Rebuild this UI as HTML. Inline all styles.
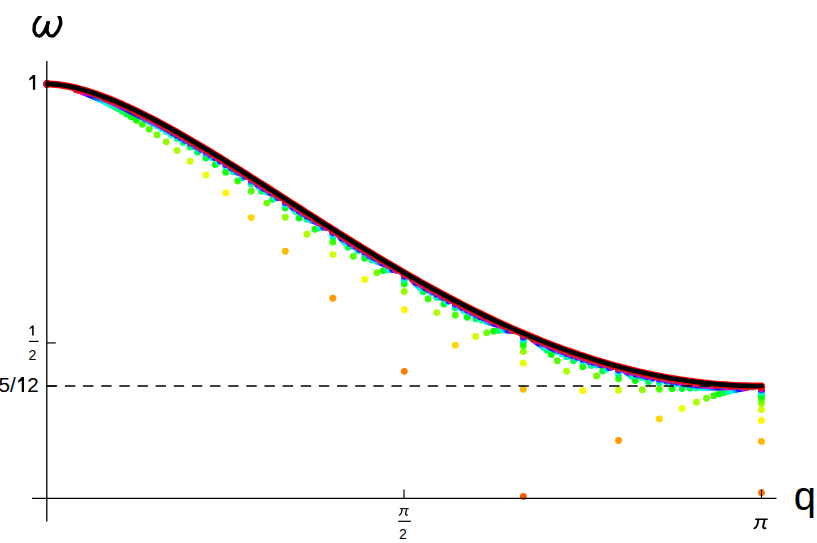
<!DOCTYPE html>
<html><head><meta charset="utf-8"><title>plot</title>
<style>html,body{margin:0;padding:0;background:#fff;}svg{display:block;}</style></head>
<body>
<svg width="817" height="543" viewBox="0 0 817 543">
<rect width="817" height="543" fill="#fff"/>
<defs><clipPath id="cp"><rect x="0" y="0" width="817" height="543"/></clipPath></defs>
<g clip-path="url(#cp)">
<g fill="#ff3d00"><circle cx="47.20" cy="83.90" r="3.45"/></g>
<g fill="#ff5c00"><circle cx="47.20" cy="83.90" r="3.45"/><circle cx="523.33" cy="496.48" r="3.45"/></g>
<g fill="#ff7a00"><circle cx="47.20" cy="83.90" r="3.45"/><circle cx="404.30" cy="371.33" r="3.45"/><circle cx="761.40" cy="492.64" r="3.45"/></g>
<g fill="#ff9900"><circle cx="47.20" cy="83.90" r="3.45"/><circle cx="332.88" cy="298.31" r="3.45"/><circle cx="618.56" cy="440.43" r="3.45"/></g>
<g fill="#ffb800"><circle cx="47.20" cy="83.90" r="3.45"/><circle cx="285.27" cy="251.31" r="3.45"/><circle cx="523.33" cy="389.21" r="3.45"/><circle cx="761.40" cy="441.41" r="3.45"/></g>
<g fill="#ffd600"><circle cx="47.20" cy="83.90" r="3.45"/><circle cx="251.26" cy="217.59" r="3.45"/><circle cx="455.31" cy="345.29" r="3.45"/><circle cx="659.37" cy="418.99" r="3.45"/></g>
<g fill="#fff500"><circle cx="47.20" cy="83.90" r="3.45"/><circle cx="225.75" cy="193.06" r="3.45"/><circle cx="404.30" cy="309.82" r="3.45"/><circle cx="582.85" cy="390.77" r="3.45"/><circle cx="761.40" cy="420.38" r="3.45"/></g>
<g fill="#ebff00"><circle cx="47.20" cy="83.90" r="3.45"/><circle cx="205.91" cy="175.00" r="3.45"/><circle cx="364.62" cy="279.43" r="3.45"/><circle cx="523.33" cy="363.14" r="3.45"/><circle cx="682.04" cy="408.43" r="3.45"/></g>
<g fill="#ccff00"><circle cx="47.20" cy="83.90" r="3.45"/><circle cx="190.04" cy="161.22" r="3.45"/><circle cx="332.88" cy="254.61" r="3.45"/><circle cx="475.72" cy="336.54" r="3.45"/><circle cx="618.56" cy="390.25" r="3.45"/><circle cx="761.40" cy="409.61" r="3.45"/></g>
<g fill="#adff00"><circle cx="47.20" cy="83.90" r="3.45"/><circle cx="177.05" cy="150.45" r="3.45"/><circle cx="306.91" cy="234.21" r="3.45"/><circle cx="436.76" cy="312.59" r="3.45"/><circle cx="566.62" cy="371.27" r="3.45"/><circle cx="696.47" cy="402.16" r="3.45"/></g>
<g fill="#8fff00"><circle cx="47.20" cy="83.90" r="3.45"/><circle cx="166.23" cy="141.86" r="3.45"/><circle cx="285.27" cy="217.29" r="3.45"/><circle cx="404.30" cy="291.38" r="3.45"/><circle cx="523.33" cy="351.59" r="3.45"/><circle cx="642.37" cy="389.69" r="3.45"/><circle cx="761.40" cy="403.31" r="3.45"/></g>
<g fill="#70ff00"><circle cx="47.20" cy="83.90" r="3.45"/><circle cx="157.08" cy="134.88" r="3.45"/><circle cx="266.95" cy="203.12" r="3.45"/><circle cx="376.83" cy="272.73" r="3.45"/><circle cx="486.71" cy="332.74" r="3.45"/><circle cx="596.58" cy="375.88" r="3.45"/><circle cx="706.46" cy="398.27" r="3.45"/></g>
<g fill="#52ff00"><circle cx="47.20" cy="83.90" r="3.45"/><circle cx="149.23" cy="129.14" r="3.45"/><circle cx="251.26" cy="191.15" r="3.45"/><circle cx="353.29" cy="256.35" r="3.45"/><circle cx="455.31" cy="315.13" r="3.45"/><circle cx="557.34" cy="360.82" r="3.45"/><circle cx="659.37" cy="389.20" r="3.45"/><circle cx="761.40" cy="399.30" r="3.45"/></g>
<g fill="#33ff00"><circle cx="47.20" cy="83.90" r="3.45"/><circle cx="142.43" cy="124.35" r="3.45"/><circle cx="237.65" cy="180.94" r="3.45"/><circle cx="332.88" cy="241.96" r="3.45"/><circle cx="428.11" cy="298.92" r="3.45"/><circle cx="523.33" cy="345.75" r="3.45"/><circle cx="618.56" cy="378.71" r="3.45"/><circle cx="713.79" cy="395.67" r="3.45"/></g>
<g fill="#14ff00"><circle cx="47.20" cy="83.90" r="3.45"/><circle cx="136.48" cy="120.31" r="3.45"/><circle cx="225.75" cy="172.16" r="3.45"/><circle cx="315.03" cy="229.26" r="3.45"/><circle cx="404.30" cy="284.09" r="3.45"/><circle cx="493.58" cy="331.14" r="3.45"/><circle cx="582.85" cy="366.85" r="3.45"/><circle cx="672.13" cy="388.78" r="3.45"/><circle cx="761.40" cy="396.56" r="3.45"/></g>
<g fill="#00ff0a"><circle cx="47.20" cy="83.90" r="3.45"/><circle cx="131.22" cy="116.87" r="3.45"/><circle cx="215.25" cy="164.57" r="3.45"/><circle cx="299.27" cy="218.04" r="3.45"/><circle cx="383.29" cy="270.59" r="3.45"/><circle cx="467.32" cy="317.22" r="3.45"/><circle cx="551.34" cy="354.60" r="3.45"/><circle cx="635.36" cy="380.57" r="3.45"/><circle cx="719.39" cy="393.84" r="3.45"/></g>
<g fill="#00ff29"><circle cx="47.20" cy="83.90" r="3.45"/><circle cx="126.56" cy="113.91" r="3.45"/><circle cx="205.91" cy="157.94" r="3.45"/><circle cx="285.27" cy="208.08" r="3.45"/><circle cx="364.62" cy="258.31" r="3.45"/><circle cx="443.98" cy="304.11" r="3.45"/><circle cx="523.33" cy="342.37" r="3.45"/><circle cx="602.69" cy="371.00" r="3.45"/><circle cx="682.04" cy="388.44" r="3.45"/><circle cx="761.40" cy="394.62" r="3.45"/></g>
<g fill="#00ff47"><circle cx="47.20" cy="83.90" r="3.45"/><circle cx="122.38" cy="111.35" r="3.45"/><circle cx="197.56" cy="152.13" r="3.45"/><circle cx="272.74" cy="199.20" r="3.45"/><circle cx="347.92" cy="247.15" r="3.45"/><circle cx="423.09" cy="291.86" r="3.45"/><circle cx="498.27" cy="330.43" r="3.45"/><circle cx="573.45" cy="360.87" r="3.45"/><circle cx="648.63" cy="381.83" r="3.45"/><circle cx="723.81" cy="392.51" r="3.45"/></g>
<g fill="#00ff66"><circle cx="47.20" cy="83.90" r="3.45"/><circle cx="118.62" cy="109.11" r="3.45"/><circle cx="190.04" cy="147.00" r="3.45"/><circle cx="261.46" cy="191.26" r="3.45"/><circle cx="332.88" cy="236.99" r="3.45"/><circle cx="404.30" cy="280.44" r="3.45"/><circle cx="475.72" cy="318.92" r="3.45"/><circle cx="547.14" cy="350.53" r="3.45"/><circle cx="618.56" cy="373.96" r="3.45"/><circle cx="689.98" cy="388.16" r="3.45"/><circle cx="761.40" cy="393.18" r="3.45"/></g>
<g fill="#00ff85"><circle cx="47.20" cy="83.90" r="3.45"/><circle cx="115.22" cy="107.14" r="3.45"/><circle cx="183.24" cy="142.44" r="3.45"/><circle cx="251.26" cy="184.12" r="3.45"/><circle cx="319.28" cy="227.74" r="3.45"/><circle cx="387.30" cy="269.83" r="3.45"/><circle cx="455.31" cy="307.93" r="3.45"/><circle cx="523.33" cy="340.23" r="3.45"/><circle cx="591.35" cy="365.46" r="3.45"/><circle cx="659.37" cy="382.73" r="3.45"/><circle cx="727.39" cy="391.50" r="3.45"/></g>
<g fill="#00ffa3"><circle cx="47.20" cy="83.90" r="3.45"/><circle cx="112.13" cy="105.41" r="3.45"/><circle cx="177.05" cy="138.39" r="3.45"/><circle cx="241.98" cy="177.70" r="3.45"/><circle cx="306.91" cy="219.29" r="3.45"/><circle cx="371.84" cy="259.99" r="3.45"/><circle cx="436.76" cy="297.49" r="3.45"/><circle cx="501.69" cy="330.12" r="3.45"/><circle cx="566.62" cy="356.63" r="3.45"/><circle cx="631.55" cy="376.14" r="3.45"/><circle cx="696.47" cy="387.92" r="3.45"/><circle cx="761.40" cy="392.09" r="3.45"/></g>
<g fill="#00ffc2"><circle cx="47.20" cy="83.90" r="3.45"/><circle cx="109.30" cy="103.87" r="3.45"/><circle cx="171.41" cy="134.75" r="3.45"/><circle cx="233.51" cy="171.89" r="3.45"/><circle cx="295.62" cy="211.56" r="3.45"/><circle cx="357.72" cy="250.85" r="3.45"/><circle cx="419.83" cy="287.63" r="3.45"/><circle cx="481.93" cy="320.30" r="3.45"/><circle cx="544.03" cy="347.69" r="3.45"/><circle cx="606.14" cy="368.92" r="3.45"/><circle cx="668.24" cy="383.39" r="3.45"/><circle cx="730.35" cy="390.71" r="3.45"/></g>
<g fill="#00ffe0"><circle cx="47.20" cy="83.90" r="3.45"/><circle cx="106.72" cy="102.49" r="3.45"/><circle cx="166.23" cy="131.48" r="3.45"/><circle cx="225.75" cy="166.62" r="3.45"/><circle cx="285.27" cy="204.49" r="3.45"/><circle cx="344.78" cy="242.38" r="3.45"/><circle cx="404.30" cy="278.33" r="3.45"/><circle cx="463.82" cy="310.84" r="3.45"/><circle cx="523.33" cy="338.78" r="3.45"/><circle cx="582.85" cy="361.30" r="3.45"/><circle cx="642.37" cy="377.80" r="3.45"/><circle cx="701.88" cy="387.72" r="3.45"/><circle cx="761.40" cy="391.23" r="3.45"/></g>
<g fill="#00ffff"><circle cx="47.20" cy="83.90" r="3.45"/><circle cx="104.34" cy="101.26" r="3.45"/><circle cx="161.47" cy="128.53" r="3.45"/><circle cx="218.61" cy="161.82" r="3.45"/><circle cx="275.74" cy="197.99" r="3.45"/><circle cx="332.88" cy="234.52" r="3.45"/><circle cx="390.02" cy="269.58" r="3.45"/><circle cx="447.15" cy="301.77" r="3.45"/><circle cx="504.29" cy="330.01" r="3.45"/><circle cx="561.42" cy="353.49" r="3.45"/><circle cx="618.56" cy="371.59" r="3.45"/><circle cx="675.70" cy="383.88" r="3.45"/><circle cx="732.83" cy="390.09" r="3.45"/></g>
<g fill="#00e0ff"><circle cx="47.20" cy="83.90" r="3.45"/><circle cx="102.14" cy="100.15" r="3.45"/><circle cx="157.08" cy="125.85" r="3.45"/><circle cx="212.02" cy="157.44" r="3.45"/><circle cx="266.95" cy="192.01" r="3.45"/><circle cx="321.89" cy="227.21" r="3.45"/><circle cx="376.83" cy="261.35" r="3.45"/><circle cx="431.77" cy="293.11" r="3.45"/><circle cx="486.71" cy="321.45" r="3.45"/><circle cx="541.65" cy="345.60" r="3.45"/><circle cx="596.58" cy="364.96" r="3.45"/><circle cx="651.52" cy="379.08" r="3.45"/><circle cx="706.46" cy="387.56" r="3.45"/><circle cx="761.40" cy="390.55" r="3.45"/></g>
<g fill="#00c2ff"><circle cx="47.20" cy="83.90" r="3.45"/><circle cx="100.10" cy="99.15" r="3.45"/><circle cx="153.01" cy="123.42" r="3.45"/><circle cx="205.91" cy="153.44" r="3.45"/><circle cx="258.81" cy="186.49" r="3.45"/><circle cx="311.72" cy="220.42" r="3.45"/><circle cx="364.62" cy="253.62" r="3.45"/><circle cx="417.53" cy="284.85" r="3.45"/><circle cx="470.43" cy="313.15" r="3.45"/><circle cx="523.33" cy="337.75" r="3.45"/><circle cx="576.24" cy="358.08" r="3.45"/><circle cx="629.14" cy="373.69" r="3.45"/><circle cx="682.04" cy="384.26" r="3.45"/><circle cx="734.95" cy="389.59" r="3.45"/></g>
<g fill="#00a3ff"><circle cx="47.20" cy="83.90" r="3.45"/><circle cx="98.21" cy="98.24" r="3.45"/><circle cx="149.23" cy="121.20" r="3.45"/><circle cx="200.24" cy="149.76" r="3.45"/><circle cx="251.26" cy="181.40" r="3.45"/><circle cx="302.27" cy="214.10" r="3.45"/><circle cx="353.29" cy="246.35" r="3.45"/><circle cx="404.30" cy="277.00" r="3.45"/><circle cx="455.31" cy="305.13" r="3.45"/><circle cx="506.33" cy="330.01" r="3.45"/><circle cx="557.34" cy="351.07" r="3.45"/><circle cx="608.36" cy="367.87" r="3.45"/><circle cx="659.37" cy="380.09" r="3.45"/><circle cx="710.39" cy="387.41" r="3.45"/><circle cx="761.40" cy="390.00" r="3.45"/></g>
<g fill="#0085ff"><circle cx="47.20" cy="83.90" r="3.45"/><circle cx="96.46" cy="97.41" r="3.45"/><circle cx="145.71" cy="119.17" r="3.45"/><circle cx="194.97" cy="146.38" r="3.45"/><circle cx="244.22" cy="176.69" r="3.45"/><circle cx="293.48" cy="208.20" r="3.45"/><circle cx="342.73" cy="239.52" r="3.45"/><circle cx="391.99" cy="269.55" r="3.45"/><circle cx="441.24" cy="297.41" r="3.45"/><circle cx="490.50" cy="322.42" r="3.45"/><circle cx="539.75" cy="344.02" r="3.45"/><circle cx="589.01" cy="361.78" r="3.45"/><circle cx="638.26" cy="375.37" r="3.45"/><circle cx="687.52" cy="384.55" r="3.45"/><circle cx="736.77" cy="389.18" r="3.45"/></g>
<g fill="#0066ff"><circle cx="47.20" cy="83.90" r="3.45"/><circle cx="94.81" cy="96.65" r="3.45"/><circle cx="142.43" cy="117.31" r="3.45"/><circle cx="190.04" cy="143.26" r="3.45"/><circle cx="237.65" cy="172.31" r="3.45"/><circle cx="285.27" cy="202.70" r="3.45"/><circle cx="332.88" cy="233.10" r="3.45"/><circle cx="380.49" cy="262.47" r="3.45"/><circle cx="428.11" cy="290.00" r="3.45"/><circle cx="475.72" cy="315.02" r="3.45"/><circle cx="523.33" cy="337.00" r="3.45"/><circle cx="570.95" cy="355.51" r="3.45"/><circle cx="618.56" cy="370.23" r="3.45"/><circle cx="666.17" cy="380.91" r="3.45"/><circle cx="713.79" cy="387.29" r="3.45"/><circle cx="761.40" cy="389.55" r="3.45"/></g>
<g fill="#0047ff"><circle cx="47.20" cy="83.90" r="3.45"/><circle cx="93.28" cy="95.96" r="3.45"/><circle cx="139.35" cy="115.60" r="3.45"/><circle cx="185.43" cy="140.38" r="3.45"/><circle cx="231.51" cy="168.25" r="3.45"/><circle cx="277.59" cy="197.56" r="3.45"/><circle cx="323.66" cy="227.06" r="3.45"/><circle cx="369.74" cy="255.76" r="3.45"/><circle cx="415.82" cy="282.90" r="3.45"/><circle cx="461.90" cy="307.84" r="3.45"/><circle cx="507.97" cy="330.06" r="3.45"/><circle cx="554.05" cy="349.15" r="3.45"/><circle cx="600.13" cy="364.79" r="3.45"/><circle cx="646.21" cy="376.73" r="3.45"/><circle cx="692.28" cy="384.79" r="3.45"/><circle cx="738.36" cy="388.84" r="3.45"/></g>
<g fill="#0029ff"><circle cx="47.20" cy="83.90" r="3.45"/><circle cx="91.84" cy="95.32" r="3.45"/><circle cx="136.48" cy="114.02" r="3.45"/><circle cx="181.11" cy="137.71" r="3.45"/><circle cx="225.75" cy="164.48" r="3.45"/><circle cx="270.39" cy="192.75" r="3.45"/><circle cx="315.03" cy="221.37" r="3.45"/><circle cx="359.66" cy="249.40" r="3.45"/><circle cx="404.30" cy="276.11" r="3.45"/><circle cx="448.94" cy="300.89" r="3.45"/><circle cx="493.58" cy="323.24" r="3.45"/><circle cx="538.21" cy="342.77" r="3.45"/><circle cx="582.85" cy="359.16" r="3.45"/><circle cx="627.49" cy="372.16" r="3.45"/><circle cx="672.13" cy="381.57" r="3.45"/><circle cx="716.76" cy="387.19" r="3.45"/><circle cx="761.40" cy="389.17" r="3.45"/></g>
<g fill="#000aff"><circle cx="47.20" cy="83.90" r="3.45"/><circle cx="90.48" cy="94.74" r="3.45"/><circle cx="133.77" cy="112.56" r="3.45"/><circle cx="177.05" cy="135.23" r="3.45"/><circle cx="220.34" cy="160.95" r="3.45"/><circle cx="263.62" cy="188.25" r="3.45"/><circle cx="306.91" cy="216.01" r="3.45"/><circle cx="350.19" cy="243.36" r="3.45"/><circle cx="393.48" cy="269.61" r="3.45"/><circle cx="436.76" cy="294.17" r="3.45"/><circle cx="480.05" cy="316.57" r="3.45"/><circle cx="523.33" cy="336.42" r="3.45"/><circle cx="566.62" cy="353.41" r="3.45"/><circle cx="609.90" cy="367.28" r="3.45"/><circle cx="653.19" cy="377.85" r="3.45"/><circle cx="696.47" cy="384.97" r="3.45"/><circle cx="739.76" cy="388.56" r="3.45"/></g>
<g fill="#1400ff"><circle cx="47.20" cy="83.90" r="3.45"/><circle cx="89.21" cy="94.20" r="3.45"/><circle cx="131.22" cy="111.21" r="3.45"/><circle cx="173.24" cy="132.93" r="3.45"/><circle cx="215.25" cy="157.66" r="3.45"/><circle cx="257.26" cy="184.02" r="3.45"/><circle cx="299.27" cy="210.95" r="3.45"/><circle cx="341.28" cy="237.64" r="3.45"/><circle cx="383.29" cy="263.40" r="3.45"/><circle cx="425.31" cy="287.70" r="3.45"/><circle cx="467.32" cy="310.07" r="3.45"/><circle cx="509.33" cy="330.14" r="3.45"/><circle cx="551.34" cy="347.60" r="3.45"/><circle cx="593.35" cy="362.20" r="3.45"/><circle cx="635.36" cy="373.76" r="3.45"/><circle cx="677.38" cy="382.11" r="3.45"/><circle cx="719.39" cy="387.09" r="3.45"/><circle cx="761.40" cy="388.85" r="3.45"/></g>
<g fill="#3300ff"><circle cx="47.20" cy="83.90" r="3.45"/><circle cx="88.01" cy="93.70" r="3.45"/><circle cx="128.82" cy="109.95" r="3.45"/><circle cx="169.63" cy="130.78" r="3.45"/><circle cx="210.45" cy="154.59" r="3.45"/><circle cx="251.26" cy="180.05" r="3.45"/><circle cx="292.07" cy="206.18" r="3.45"/><circle cx="332.88" cy="232.20" r="3.45"/><circle cx="373.69" cy="257.47" r="3.45"/><circle cx="414.50" cy="281.47" r="3.45"/><circle cx="455.31" cy="303.75" r="3.45"/><circle cx="496.13" cy="323.95" r="3.45"/><circle cx="536.94" cy="341.77" r="3.45"/><circle cx="577.75" cy="356.98" r="3.45"/><circle cx="618.56" cy="369.37" r="3.45"/><circle cx="659.37" cy="378.79" r="3.45"/><circle cx="700.18" cy="385.13" r="3.45"/><circle cx="740.99" cy="388.31" r="3.45"/></g>
<g fill="#5200ff"><circle cx="47.20" cy="83.90" r="3.45"/><circle cx="86.88" cy="93.24" r="3.45"/><circle cx="126.56" cy="108.79" r="3.45"/><circle cx="166.23" cy="128.78" r="3.45"/><circle cx="205.91" cy="151.71" r="3.45"/><circle cx="245.59" cy="176.32" r="3.45"/><circle cx="285.27" cy="201.68" r="3.45"/><circle cx="324.94" cy="227.05" r="3.45"/><circle cx="364.62" cy="251.81" r="3.45"/><circle cx="404.30" cy="275.47" r="3.45"/><circle cx="443.98" cy="297.61" r="3.45"/><circle cx="483.66" cy="317.88" r="3.45"/><circle cx="523.33" cy="335.98" r="3.45"/><circle cx="563.01" cy="351.67" r="3.45"/><circle cx="602.69" cy="364.76" r="3.45"/><circle cx="642.37" cy="375.10" r="3.45"/><circle cx="682.04" cy="382.56" r="3.45"/><circle cx="721.72" cy="387.01" r="3.45"/><circle cx="761.40" cy="388.58" r="3.45"/></g>
<g fill="#7000ff"><circle cx="47.20" cy="83.90" r="3.45"/><circle cx="85.81" cy="92.81" r="3.45"/><circle cx="124.41" cy="107.70" r="3.45"/><circle cx="163.02" cy="126.91" r="3.45"/><circle cx="201.62" cy="149.00" r="3.45"/><circle cx="240.23" cy="172.80" r="3.45"/><circle cx="278.83" cy="197.42" r="3.45"/><circle cx="317.44" cy="222.15" r="3.45"/><circle cx="356.04" cy="246.41" r="3.45"/><circle cx="394.65" cy="269.71" r="3.45"/><circle cx="433.25" cy="291.67" r="3.45"/><circle cx="471.86" cy="311.94" r="3.45"/><circle cx="510.46" cy="330.23" r="3.45"/><circle cx="549.07" cy="346.32" r="3.45"/><circle cx="587.68" cy="360.00" r="3.45"/><circle cx="626.28" cy="371.13" r="3.45"/><circle cx="664.89" cy="379.57" r="3.45"/><circle cx="703.49" cy="385.25" r="3.45"/><circle cx="742.10" cy="388.11" r="3.45"/></g>
<g fill="#8f00ff"><circle cx="47.20" cy="83.90" r="3.45"/><circle cx="84.79" cy="92.41" r="3.45"/><circle cx="122.38" cy="106.68" r="3.45"/><circle cx="159.97" cy="125.16" r="3.45"/><circle cx="197.56" cy="146.46" r="3.45"/><circle cx="235.15" cy="169.49" r="3.45"/><circle cx="272.74" cy="193.39" r="3.45"/><circle cx="310.33" cy="217.49" r="3.45"/><circle cx="347.92" cy="241.24" r="3.45"/><circle cx="385.51" cy="264.18" r="3.45"/><circle cx="423.09" cy="285.92" r="3.45"/><circle cx="460.68" cy="306.14" r="3.45"/><circle cx="498.27" cy="324.56" r="3.45"/><circle cx="535.86" cy="340.96" r="3.45"/><circle cx="573.45" cy="355.13" r="3.45"/><circle cx="611.04" cy="366.93" r="3.45"/><circle cx="648.63" cy="376.24" r="3.45"/><circle cx="686.22" cy="382.95" r="3.45"/><circle cx="723.81" cy="386.94" r="3.45"/><circle cx="761.40" cy="388.35" r="3.45"/></g>
<g fill="#ad00ff"><circle cx="47.20" cy="83.90" r="3.45"/><circle cx="83.83" cy="92.04" r="3.45"/><circle cx="120.45" cy="105.73" r="3.45"/><circle cx="157.08" cy="123.51" r="3.45"/><circle cx="193.70" cy="144.08" r="3.45"/><circle cx="230.33" cy="166.37" r="3.45"/><circle cx="266.95" cy="189.58" r="3.45"/><circle cx="303.58" cy="213.07" r="3.45"/><circle cx="340.21" cy="236.31" r="3.45"/><circle cx="376.83" cy="258.87" r="3.45"/><circle cx="413.46" cy="280.37" r="3.45"/><circle cx="450.08" cy="300.50" r="3.45"/><circle cx="486.71" cy="318.99" r="3.45"/><circle cx="523.33" cy="335.62" r="3.45"/><circle cx="559.96" cy="350.20" r="3.45"/><circle cx="596.58" cy="362.58" r="3.45"/><circle cx="633.21" cy="372.62" r="3.45"/><circle cx="669.84" cy="380.24" r="3.45"/><circle cx="706.46" cy="385.36" r="3.45"/><circle cx="743.09" cy="387.93" r="3.45"/></g>
<g fill="#cc00ff"><circle cx="47.20" cy="83.90" r="3.45"/><circle cx="82.91" cy="91.69" r="3.45"/><circle cx="118.62" cy="104.85" r="3.45"/><circle cx="154.33" cy="121.97" r="3.45"/><circle cx="190.04" cy="141.83" r="3.45"/><circle cx="225.75" cy="163.42" r="3.45"/><circle cx="261.46" cy="185.96" r="3.45"/><circle cx="297.17" cy="208.86" r="3.45"/><circle cx="332.88" cy="231.60" r="3.45"/><circle cx="368.59" cy="253.77" r="3.45"/><circle cx="404.30" cy="275.01" r="3.45"/><circle cx="440.01" cy="295.01" r="3.45"/><circle cx="475.72" cy="313.52" r="3.45"/><circle cx="511.43" cy="330.33" r="3.45"/><circle cx="547.14" cy="345.24" r="3.45"/><circle cx="582.85" cy="358.10" r="3.45"/><circle cx="618.56" cy="368.79" r="3.45"/><circle cx="654.27" cy="377.21" r="3.45"/><circle cx="689.98" cy="383.27" r="3.45"/><circle cx="725.69" cy="386.88" r="3.45"/><circle cx="761.40" cy="388.15" r="3.45"/></g>
<g fill="#eb00ff"><circle cx="47.20" cy="83.90" r="3.45"/><circle cx="82.04" cy="91.37" r="3.45"/><circle cx="116.88" cy="104.01" r="3.45"/><circle cx="151.72" cy="120.52" r="3.45"/><circle cx="186.56" cy="139.71" r="3.45"/><circle cx="221.40" cy="160.62" r="3.45"/><circle cx="256.23" cy="182.53" r="3.45"/><circle cx="291.07" cy="204.85" r="3.45"/><circle cx="325.91" cy="227.10" r="3.45"/><circle cx="360.75" cy="248.87" r="3.45"/><circle cx="395.59" cy="269.83" r="3.45"/><circle cx="430.43" cy="289.68" r="3.45"/><circle cx="465.27" cy="308.18" r="3.45"/><circle cx="500.11" cy="325.10" r="3.45"/><circle cx="534.95" cy="340.28" r="3.45"/><circle cx="569.79" cy="353.55" r="3.45"/><circle cx="604.62" cy="364.79" r="3.45"/><circle cx="639.46" cy="373.91" r="3.45"/><circle cx="674.30" cy="380.81" r="3.45"/><circle cx="709.14" cy="385.44" r="3.45"/><circle cx="743.98" cy="387.77" r="3.45"/></g>
<g fill="#ff00f5"><circle cx="47.20" cy="83.90" r="3.45"/><circle cx="81.21" cy="91.06" r="3.45"/><circle cx="115.22" cy="103.23" r="3.45"/><circle cx="149.23" cy="119.15" r="3.45"/><circle cx="183.24" cy="137.71" r="3.45"/><circle cx="217.25" cy="157.98" r="3.45"/><circle cx="251.26" cy="179.28" r="3.45"/><circle cx="285.27" cy="201.04" r="3.45"/><circle cx="319.28" cy="222.80" r="3.45"/><circle cx="353.29" cy="244.18" r="3.45"/><circle cx="387.30" cy="264.84" r="3.45"/><circle cx="421.30" cy="284.51" r="3.45"/><circle cx="455.31" cy="302.95" r="3.45"/><circle cx="489.32" cy="319.95" r="3.45"/><circle cx="523.33" cy="335.33" r="3.45"/><circle cx="557.34" cy="348.95" r="3.45"/><circle cx="591.35" cy="360.67" r="3.45"/><circle cx="625.36" cy="370.39" r="3.45"/><circle cx="659.37" cy="378.04" r="3.45"/><circle cx="693.38" cy="383.55" r="3.45"/><circle cx="727.39" cy="386.82" r="3.45"/><circle cx="761.40" cy="387.98" r="3.45"/></g>
<g fill="#ff00d6"><circle cx="47.20" cy="83.90" r="3.45"/><circle cx="80.42" cy="90.78" r="3.45"/><circle cx="113.64" cy="102.49" r="3.45"/><circle cx="146.86" cy="117.86" r="3.45"/><circle cx="180.07" cy="135.81" r="3.45"/><circle cx="213.29" cy="155.48" r="3.45"/><circle cx="246.51" cy="176.18" r="3.45"/><circle cx="279.73" cy="197.40" r="3.45"/><circle cx="312.95" cy="218.68" r="3.45"/><circle cx="346.17" cy="239.67" r="3.45"/><circle cx="379.39" cy="260.03" r="3.45"/><circle cx="412.60" cy="279.51" r="3.45"/><circle cx="445.82" cy="297.86" r="3.45"/><circle cx="479.04" cy="314.89" r="3.45"/><circle cx="512.26" cy="330.43" r="3.45"/><circle cx="545.48" cy="344.32" r="3.45"/><circle cx="578.70" cy="356.45" r="3.45"/><circle cx="611.92" cy="366.71" r="3.45"/><circle cx="645.13" cy="375.02" r="3.45"/><circle cx="678.35" cy="381.30" r="3.45"/><circle cx="711.57" cy="385.52" r="3.45"/><circle cx="744.79" cy="387.63" r="3.45"/></g>
<g fill="#ff00b8"><circle cx="47.20" cy="83.90" r="3.45"/><circle cx="79.66" cy="90.51" r="3.45"/><circle cx="112.13" cy="101.80" r="3.45"/><circle cx="144.59" cy="116.64" r="3.45"/><circle cx="177.05" cy="134.03" r="3.45"/><circle cx="209.52" cy="153.10" r="3.45"/><circle cx="241.98" cy="173.24" r="3.45"/><circle cx="274.45" cy="193.93" r="3.45"/><circle cx="306.91" cy="214.75" r="3.45"/><circle cx="339.37" cy="235.34" r="3.45"/><circle cx="371.84" cy="255.39" r="3.45"/><circle cx="404.30" cy="274.65" r="3.45"/><circle cx="436.76" cy="292.90" r="3.45"/><circle cx="469.23" cy="309.93" r="3.45"/><circle cx="501.69" cy="325.58" r="3.45"/><circle cx="534.15" cy="339.70" r="3.45"/><circle cx="566.62" cy="352.18" r="3.45"/><circle cx="599.08" cy="362.90" r="3.45"/><circle cx="631.55" cy="371.78" r="3.45"/><circle cx="664.01" cy="378.76" r="3.45"/><circle cx="696.47" cy="383.79" r="3.45"/><circle cx="728.94" cy="386.77" r="3.45"/><circle cx="761.40" cy="387.83" r="3.45"/></g>
<g fill="#ff0099"><circle cx="47.20" cy="83.90" r="3.45"/><circle cx="78.94" cy="90.26" r="3.45"/><circle cx="110.68" cy="101.15" r="3.45"/><circle cx="142.43" cy="115.50" r="3.45"/><circle cx="174.17" cy="132.33" r="3.45"/><circle cx="205.91" cy="150.85" r="3.45"/><circle cx="237.65" cy="170.44" r="3.45"/><circle cx="269.40" cy="190.62" r="3.45"/><circle cx="301.14" cy="210.98" r="3.45"/><circle cx="332.88" cy="231.18" r="3.45"/><circle cx="364.62" cy="250.92" r="3.45"/><circle cx="396.36" cy="269.96" r="3.45"/><circle cx="428.11" cy="288.07" r="3.45"/><circle cx="459.85" cy="305.07" r="3.45"/><circle cx="491.59" cy="320.79" r="3.45"/><circle cx="523.33" cy="335.10" r="3.45"/><circle cx="555.08" cy="347.86" r="3.45"/><circle cx="586.82" cy="358.99" r="3.45"/><circle cx="618.56" cy="368.38" r="3.45"/><circle cx="650.30" cy="375.98" r="3.45"/><circle cx="682.04" cy="381.73" r="3.45"/><circle cx="713.79" cy="385.58" r="3.45"/><circle cx="745.53" cy="387.51" r="3.45"/></g>
<g fill="#ff007a"><circle cx="47.20" cy="83.90" r="3.45"/><circle cx="78.25" cy="90.02" r="3.45"/><circle cx="109.30" cy="100.53" r="3.45"/><circle cx="140.36" cy="114.41" r="3.45"/><circle cx="171.41" cy="130.72" r="3.45"/><circle cx="202.46" cy="148.71" r="3.45"/><circle cx="233.51" cy="167.78" r="3.45"/><circle cx="264.57" cy="187.46" r="3.45"/><circle cx="295.62" cy="207.37" r="3.45"/><circle cx="326.67" cy="227.18" r="3.45"/><circle cx="357.72" cy="246.61" r="3.45"/><circle cx="388.77" cy="265.41" r="3.45"/><circle cx="419.83" cy="283.37" r="3.45"/><circle cx="450.88" cy="300.32" r="3.45"/><circle cx="481.93" cy="316.08" r="3.45"/><circle cx="512.98" cy="330.53" r="3.45"/><circle cx="544.03" cy="343.54" r="3.45"/><circle cx="575.09" cy="355.01" r="3.45"/><circle cx="606.14" cy="364.85" r="3.45"/><circle cx="637.19" cy="373.00" r="3.45"/><circle cx="668.24" cy="379.39" r="3.45"/><circle cx="699.30" cy="383.99" r="3.45"/><circle cx="730.35" cy="386.72" r="3.45"/><circle cx="761.40" cy="387.69" r="3.45"/></g>
<g fill="#ff005c"><circle cx="47.20" cy="83.90" r="3.45"/><circle cx="77.59" cy="89.80" r="3.45"/><circle cx="107.98" cy="99.95" r="3.45"/><circle cx="138.37" cy="113.38" r="3.45"/><circle cx="168.77" cy="129.20" r="3.45"/><circle cx="199.16" cy="146.67" r="3.45"/><circle cx="229.55" cy="165.24" r="3.45"/><circle cx="259.94" cy="184.44" r="3.45"/><circle cx="290.33" cy="203.92" r="3.45"/><circle cx="320.72" cy="223.35" r="3.45"/><circle cx="351.11" cy="242.45" r="3.45"/><circle cx="381.51" cy="261.01" r="3.45"/><circle cx="411.90" cy="278.81" r="3.45"/><circle cx="442.29" cy="295.68" r="3.45"/><circle cx="472.68" cy="311.45" r="3.45"/><circle cx="503.07" cy="326.00" r="3.45"/><circle cx="533.46" cy="339.21" r="3.45"/><circle cx="563.86" cy="350.98" r="3.45"/><circle cx="594.25" cy="361.21" r="3.45"/><circle cx="624.64" cy="369.85" r="3.45"/><circle cx="655.03" cy="376.83" r="3.45"/><circle cx="685.42" cy="382.10" r="3.45"/><circle cx="715.81" cy="385.63" r="3.45"/><circle cx="746.20" cy="387.41" r="3.45"/></g>
<g fill="#ff003d"><circle cx="47.20" cy="83.90" r="3.45"/><circle cx="76.96" cy="89.58" r="3.45"/><circle cx="106.72" cy="99.40" r="3.45"/><circle cx="136.48" cy="112.40" r="3.45"/><circle cx="166.23" cy="127.75" r="3.45"/><circle cx="195.99" cy="144.73" r="3.45"/><circle cx="225.75" cy="162.81" r="3.45"/><circle cx="255.51" cy="181.56" r="3.45"/><circle cx="285.27" cy="200.61" r="3.45"/><circle cx="315.03" cy="219.66" r="3.45"/><circle cx="344.78" cy="238.45" r="3.45"/><circle cx="374.54" cy="256.76" r="3.45"/><circle cx="404.30" cy="274.38" r="3.45"/><circle cx="434.06" cy="291.15" r="3.45"/><circle cx="463.82" cy="306.91" r="3.45"/><circle cx="493.57" cy="321.53" r="3.45"/><circle cx="523.33" cy="334.90" r="3.45"/><circle cx="553.09" cy="346.92" r="3.45"/><circle cx="582.85" cy="357.50" r="3.45"/><circle cx="612.61" cy="366.57" r="3.45"/><circle cx="642.37" cy="374.07" r="3.45"/><circle cx="672.13" cy="379.95" r="3.45"/><circle cx="701.88" cy="384.17" r="3.45"/><circle cx="731.64" cy="386.68" r="3.45"/><circle cx="761.40" cy="387.57" r="3.45"/></g>
<g fill="#ff001f"><circle cx="47.20" cy="83.90" r="3.45"/><circle cx="76.35" cy="89.38" r="3.45"/><circle cx="105.50" cy="98.87" r="3.45"/><circle cx="134.65" cy="111.47" r="3.45"/><circle cx="163.80" cy="126.37" r="3.45"/><circle cx="192.96" cy="142.88" r="3.45"/><circle cx="222.11" cy="160.50" r="3.45"/><circle cx="251.26" cy="178.79" r="3.45"/><circle cx="280.41" cy="197.43" r="3.45"/><circle cx="309.56" cy="216.11" r="3.45"/><circle cx="338.71" cy="234.59" r="3.45"/><circle cx="367.86" cy="252.64" r="3.45"/><circle cx="397.01" cy="270.08" r="3.45"/><circle cx="426.16" cy="286.73" r="3.45"/><circle cx="455.31" cy="302.46" r="3.45"/><circle cx="484.47" cy="317.13" r="3.45"/><circle cx="513.62" cy="330.62" r="3.45"/><circle cx="542.77" cy="342.85" r="3.45"/><circle cx="571.92" cy="353.73" r="3.45"/><circle cx="601.07" cy="363.18" r="3.45"/><circle cx="630.22" cy="371.14" r="3.45"/><circle cx="659.37" cy="377.57" r="3.45"/><circle cx="688.52" cy="382.43" r="3.45"/><circle cx="717.67" cy="385.68" r="3.45"/><circle cx="746.82" cy="387.31" r="3.45"/></g>
<g fill="#ff0000"><circle cx="47.20" cy="83.90" r="3.45"/><circle cx="75.77" cy="89.20" r="3.45"/><circle cx="104.34" cy="98.38" r="3.45"/><circle cx="132.90" cy="110.59" r="3.45"/><circle cx="161.47" cy="125.06" r="3.45"/><circle cx="190.04" cy="141.12" r="3.45"/><circle cx="218.61" cy="158.29" r="3.45"/><circle cx="247.18" cy="176.15" r="3.45"/><circle cx="275.74" cy="194.38" r="3.45"/><circle cx="304.31" cy="212.70" r="3.45"/><circle cx="332.88" cy="230.86" r="3.45"/><circle cx="361.45" cy="248.66" r="3.45"/><circle cx="390.02" cy="265.90" r="3.45"/><circle cx="418.58" cy="282.43" r="3.45"/><circle cx="447.15" cy="298.10" r="3.45"/><circle cx="475.72" cy="312.79" r="3.45"/><circle cx="504.29" cy="326.38" r="3.45"/><circle cx="532.86" cy="338.79" r="3.45"/><circle cx="561.42" cy="349.92" r="3.45"/><circle cx="589.99" cy="359.70" r="3.45"/><circle cx="618.56" cy="368.08" r="3.45"/><circle cx="647.13" cy="375.01" r="3.45"/><circle cx="675.70" cy="380.43" r="3.45"/><circle cx="704.26" cy="384.33" r="3.45"/><circle cx="732.83" cy="386.65" r="3.45"/><circle cx="761.40" cy="387.46" r="3.45"/></g>
<path d="M87.74 95.19 L90.67 96.13 L93.61 97.10 L96.54 98.12 L99.48 99.17 L102.42 100.26 L105.36 101.38 L108.31 102.54 L111.25 103.72 L114.20 104.94 L117.14 106.19 L120.09 107.47 L123.04 108.78 L125.99 110.11 L128.94 111.47 L131.90 112.85 L134.85 114.26 L137.81 115.69 L140.76 117.14 L143.72 118.62 L146.68 120.12 L149.63 121.63 L152.59 123.17 L155.55 124.73 L158.51 126.30 L161.47 127.89 L164.44 129.50 L167.40 131.13 L170.36 132.77 L173.32 134.43 L176.29 136.10 L179.25 137.79 L182.22 139.49 L185.18 141.20 L188.15 142.92 L191.12 144.66 L194.08 146.41 L197.05 148.17 L200.02 149.94 L202.99 151.72 L205.95 153.51 L208.92 155.31 L211.89 157.12 L214.86 158.94 L217.83 160.76 L220.80 162.59 L223.77 164.43 L226.74 166.28 L229.72 168.13 L232.69 169.99 L235.66 171.86 L238.63 173.73 L241.60 175.60 L244.58 177.48 L247.55 179.36 L250.52 181.25 L253.50 183.14 L256.47 185.03 L259.44 186.93 L262.42 188.83 L265.39 190.73 L268.37 192.63 L271.34 194.54 L274.32 196.44 L277.29 198.35 L280.27 200.26 L283.24 202.17 L286.22 204.08 L289.19 205.98 L292.17 207.89 L295.15 209.80 L298.12 211.71 L301.10 213.61 L304.08 215.51 L307.06 217.42 L310.03 219.32 L313.01 221.21 L315.99 223.11 L318.97 225.00 L321.94 226.89 L324.92 228.78 L327.90 230.66 L330.88 232.54 L333.86 234.41 L336.84 236.28 L339.82 238.15 L342.80 240.01 L345.78 241.87 L348.76 243.72 L351.74 245.57 L354.72 247.41 L357.70 249.25 L360.68 251.08 L363.66 252.91 L366.64 254.72 L369.62 256.54 L372.60 258.34 L375.58 260.14 L378.56 261.93 L381.55 263.72 L384.53 265.50 L387.51 267.27 L390.49 269.03 L393.47 270.78 L396.46 272.53 L399.44 274.27 L402.42 276.00 L405.40 277.72 L408.39 279.44 L411.37 281.14 L414.35 282.84 L417.34 284.52 L420.32 286.20 L423.31 287.87 L426.29 289.53 L429.27 291.17 L432.26 292.81 L435.24 294.44 L438.23 296.06 L441.21 297.67 L444.20 299.27 L447.18 300.86 L450.17 302.43 L453.15 304.00 L456.14 305.55 L459.12 307.10 L462.11 308.63 L465.10 310.15 L468.08 311.66 L471.07 313.16 L474.05 314.65 L477.04 316.12 L480.03 317.59 L483.01 319.04 L486.00 320.48 L488.99 321.90 L491.98 323.32 L494.96 324.72 L497.95 326.11 L500.94 327.48 L503.93 328.85 L506.92 330.20 L509.90 331.54 L512.89 332.86 L515.88 334.17 L518.87 335.47 L521.86 336.76 L524.85 338.03 L527.84 339.28 L530.83 340.53 L533.82 341.76 L536.81 342.97 L539.80 344.18 L542.79 345.36 L545.78 346.54 L548.77 347.70 L551.76 348.84 L554.75 349.97 L557.74 351.09 L560.73 352.19 L563.72 353.28 L566.71 354.35 L569.70 355.41 L572.70 356.45 L575.69 357.48 L578.68 358.50 L581.67 359.49 L584.66 360.48 L587.66 361.44 L590.65 362.40 L593.64 363.33 L596.63 364.26 L599.63 365.16 L602.62 366.05 L605.61 366.93 L608.61 367.79 L611.60 368.63 L614.59 369.46 L617.59 370.27 L620.58 371.07 L623.58 371.85 L626.57 372.61 L629.56 373.36 L632.56 374.09 L635.55 374.81 L638.55 375.51 L641.54 376.19 L644.54 376.86 L647.53 377.51 L650.53 378.14 L653.52 378.76 L656.52 379.36 L659.51 379.95 L662.51 380.52 L665.50 381.07 L668.50 381.60 L671.50 382.12 L674.49 382.62 L677.49 383.11 L680.48 383.58 L683.48 384.03 L686.48 384.47 L689.47 384.88 L692.47 385.28 L695.46 385.67 L698.46 386.04 L701.46 386.39 L704.45 386.72 L707.45 387.04 L710.45 387.34 L713.45 387.62 L716.44 387.89 L719.44 388.13 L722.44 388.37 L725.43 388.58 L728.43 388.78 L731.43 388.96 L734.42 389.12 L737.42 389.27 L740.42 389.40 L743.42 389.51 L746.41 389.60 L749.41 389.68 L752.41 389.74 L755.41 389.78" fill="none" stroke="#6a4a86" stroke-opacity="0.75" stroke-width="1.3"/>
<path d="M47.20 83.90 L50.18 83.97 L53.15 84.15 L56.13 84.42 L59.10 84.78 L62.08 85.20 L65.06 85.69 L68.03 86.25 L71.01 86.86 L73.98 87.53 L76.96 88.25 L79.93 89.02 L82.91 89.84 L85.89 90.70 L88.86 91.61 L91.84 92.56 L94.81 93.55 L97.79 94.58 L100.77 95.65 L103.74 96.75 L106.72 97.88 L109.69 99.05 L112.67 100.25 L115.64 101.48 L118.62 102.75 L121.60 104.03 L124.57 105.35 L127.55 106.70 L130.52 108.07 L133.50 109.46 L136.48 110.88 L139.45 112.32 L142.43 113.78 L145.40 115.27 L148.38 116.78 L151.35 118.30 L154.33 119.85 L157.31 121.41 L160.28 123.00 L163.26 124.60 L166.23 126.21 L169.21 127.85 L172.19 129.50 L175.16 131.16 L178.14 132.84 L181.11 134.53 L184.09 136.24 L187.06 137.95 L190.04 139.69 L193.02 141.43 L195.99 143.18 L198.97 144.95 L201.94 146.72 L204.92 148.51 L207.89 150.30 L210.87 152.11 L213.85 153.92 L216.82 155.74 L219.80 157.57 L222.77 159.40 L225.75 161.25 L228.73 163.10 L231.70 164.95 L234.68 166.81 L237.65 168.68 L240.63 170.55 L243.61 172.43 L246.58 174.31 L249.56 176.19 L252.53 178.08 L255.51 179.98 L258.48 181.87 L261.46 183.77 L264.44 185.67 L267.41 187.57 L270.39 189.48 L273.36 191.38 L276.34 193.29 L279.31 195.19 L282.29 197.10 L285.27 199.01 L288.24 200.92 L291.22 202.83 L294.19 204.73 L297.17 206.64 L300.15 208.55 L303.12 210.45 L306.10 212.35 L309.07 214.25 L312.05 216.15 L315.03 218.05 L318.00 219.94 L320.98 221.83 L323.95 223.72 L326.93 225.61 L329.90 227.49 L332.88 229.37 L335.86 231.24 L338.83 233.11 L341.81 234.97 L344.78 236.83 L347.76 238.69 L350.74 240.54 L353.71 242.38 L356.69 244.22 L359.66 246.06 L362.64 247.88 L365.61 249.71 L368.59 251.52 L371.57 253.33 L374.54 255.13 L377.52 256.93 L380.49 258.72 L383.47 260.50 L386.44 262.27 L389.42 264.04 L392.40 265.80 L395.37 267.55 L398.35 269.29 L401.32 271.03 L404.30 272.75 L407.28 274.47 L410.25 276.18 L413.23 277.88 L416.20 279.57 L419.18 281.26 L422.16 282.93 L425.13 284.59 L428.11 286.25 L431.08 287.89 L434.06 289.52 L437.03 291.15 L440.01 292.76 L442.99 294.37 L445.96 295.96 L448.94 297.54 L451.91 299.11 L454.89 300.68 L457.87 302.23 L460.84 303.76 L463.82 305.29 L466.79 306.81 L469.77 308.31 L472.74 309.81 L475.72 311.29 L478.70 312.76 L481.67 314.22 L484.65 315.66 L487.62 317.10 L490.60 318.52 L493.58 319.93 L496.55 321.32 L499.53 322.70 L502.50 324.08 L505.48 325.43 L508.45 326.78 L511.43 328.11 L514.41 329.43 L517.38 330.74 L520.36 332.03 L523.33 333.31 L526.31 334.57 L529.29 335.82 L532.26 337.06 L535.24 338.29 L538.21 339.50 L541.19 340.69 L544.16 341.88 L547.14 343.05 L550.12 344.20 L553.09 345.34 L556.07 346.46 L559.04 347.58 L562.02 348.67 L565.00 349.75 L567.97 350.82 L570.95 351.87 L573.92 352.91 L576.90 353.93 L579.87 354.94 L582.85 355.93 L585.83 356.91 L588.80 357.87 L591.78 358.82 L594.75 359.75 L597.73 360.67 L600.71 361.57 L603.68 362.45 L606.66 363.32 L609.63 364.18 L612.61 365.02 L615.58 365.84 L618.56 366.65 L621.54 367.44 L624.51 368.21 L627.49 368.97 L630.46 369.72 L633.44 370.45 L636.42 371.16 L639.39 371.85 L642.37 372.53 L645.34 373.19 L648.32 373.84 L651.29 374.47 L654.27 375.09 L657.25 375.68 L660.22 376.26 L663.20 376.83 L666.17 377.38 L669.15 377.91 L672.13 378.43 L675.10 378.92 L678.08 379.41 L681.05 379.87 L684.03 380.32 L687.00 380.75 L689.98 381.17 L692.96 381.57 L695.93 381.95 L698.91 382.31 L701.88 382.66 L704.86 382.99 L707.84 383.31 L710.81 383.61 L713.79 383.89 L716.76 384.15 L719.74 384.40 L722.71 384.63 L725.69 384.84 L728.67 385.04 L731.64 385.21 L734.62 385.38 L737.59 385.52 L740.57 385.65 L743.55 385.76 L746.52 385.85 L749.50 385.93 L752.47 385.99 L755.45 386.03 L758.42 386.06 L761.40 386.07" fill="none" stroke="#ff0000" stroke-width="7.0" stroke-linecap="round" stroke-linejoin="round"/>
<path d="M47.20 83.90 L50.18 83.97 L53.15 84.15 L56.13 84.42 L59.10 84.78 L62.08 85.20 L65.06 85.69 L68.03 86.25 L71.01 86.86 L73.98 87.53 L76.96 88.25 L79.93 89.02 L82.91 89.84 L85.89 90.70 L88.86 91.61 L91.84 92.56 L94.81 93.55 L97.79 94.58 L100.77 95.65 L103.74 96.75 L106.72 97.88 L109.69 99.05 L112.67 100.25 L115.64 101.48 L118.62 102.75 L121.60 104.03 L124.57 105.35 L127.55 106.70 L130.52 108.07 L133.50 109.46 L136.48 110.88 L139.45 112.32 L142.43 113.78 L145.40 115.27 L148.38 116.78 L151.35 118.30 L154.33 119.85 L157.31 121.41 L160.28 123.00 L163.26 124.60 L166.23 126.21 L169.21 127.85 L172.19 129.50 L175.16 131.16 L178.14 132.84 L181.11 134.53 L184.09 136.24 L187.06 137.95 L190.04 139.69 L193.02 141.43 L195.99 143.18 L198.97 144.95 L201.94 146.72 L204.92 148.51 L207.89 150.30 L210.87 152.11 L213.85 153.92 L216.82 155.74 L219.80 157.57 L222.77 159.40 L225.75 161.25 L228.73 163.10 L231.70 164.95 L234.68 166.81 L237.65 168.68 L240.63 170.55 L243.61 172.43 L246.58 174.31 L249.56 176.19 L252.53 178.08 L255.51 179.98 L258.48 181.87 L261.46 183.77 L264.44 185.67 L267.41 187.57 L270.39 189.48 L273.36 191.38 L276.34 193.29 L279.31 195.19 L282.29 197.10 L285.27 199.01 L288.24 200.92 L291.22 202.83 L294.19 204.73 L297.17 206.64 L300.15 208.55 L303.12 210.45 L306.10 212.35 L309.07 214.25 L312.05 216.15 L315.03 218.05 L318.00 219.94 L320.98 221.83 L323.95 223.72 L326.93 225.61 L329.90 227.49 L332.88 229.37 L335.86 231.24 L338.83 233.11 L341.81 234.97 L344.78 236.83 L347.76 238.69 L350.74 240.54 L353.71 242.38 L356.69 244.22 L359.66 246.06 L362.64 247.88 L365.61 249.71 L368.59 251.52 L371.57 253.33 L374.54 255.13 L377.52 256.93 L380.49 258.72 L383.47 260.50 L386.44 262.27 L389.42 264.04 L392.40 265.80 L395.37 267.55 L398.35 269.29 L401.32 271.03 L404.30 272.75 L407.28 274.47 L410.25 276.18 L413.23 277.88 L416.20 279.57 L419.18 281.26 L422.16 282.93 L425.13 284.59 L428.11 286.25 L431.08 287.89 L434.06 289.52 L437.03 291.15 L440.01 292.76 L442.99 294.37 L445.96 295.96 L448.94 297.54 L451.91 299.11 L454.89 300.68 L457.87 302.23 L460.84 303.76 L463.82 305.29 L466.79 306.81 L469.77 308.31 L472.74 309.81 L475.72 311.29 L478.70 312.76 L481.67 314.22 L484.65 315.66 L487.62 317.10 L490.60 318.52 L493.58 319.93 L496.55 321.32 L499.53 322.70 L502.50 324.08 L505.48 325.43 L508.45 326.78 L511.43 328.11 L514.41 329.43 L517.38 330.74 L520.36 332.03 L523.33 333.31 L526.31 334.57 L529.29 335.82 L532.26 337.06 L535.24 338.29 L538.21 339.50 L541.19 340.69 L544.16 341.88 L547.14 343.05 L550.12 344.20 L553.09 345.34 L556.07 346.46 L559.04 347.58 L562.02 348.67 L565.00 349.75 L567.97 350.82 L570.95 351.87 L573.92 352.91 L576.90 353.93 L579.87 354.94 L582.85 355.93 L585.83 356.91 L588.80 357.87 L591.78 358.82 L594.75 359.75 L597.73 360.67 L600.71 361.57 L603.68 362.45 L606.66 363.32 L609.63 364.18 L612.61 365.02 L615.58 365.84 L618.56 366.65 L621.54 367.44 L624.51 368.21 L627.49 368.97 L630.46 369.72 L633.44 370.45 L636.42 371.16 L639.39 371.85 L642.37 372.53 L645.34 373.19 L648.32 373.84 L651.29 374.47 L654.27 375.09 L657.25 375.68 L660.22 376.26 L663.20 376.83 L666.17 377.38 L669.15 377.91 L672.13 378.43 L675.10 378.92 L678.08 379.41 L681.05 379.87 L684.03 380.32 L687.00 380.75 L689.98 381.17 L692.96 381.57 L695.93 381.95 L698.91 382.31 L701.88 382.66 L704.86 382.99 L707.84 383.31 L710.81 383.61 L713.79 383.89 L716.76 384.15 L719.74 384.40 L722.71 384.63 L725.69 384.84 L728.67 385.04 L731.64 385.21 L734.62 385.38 L737.59 385.52 L740.57 385.65 L743.55 385.76 L746.52 385.85 L749.50 385.93 L752.47 385.99 L755.45 386.03 L758.42 386.06 L761.40 386.07" fill="none" stroke="#000" stroke-width="4.6" stroke-linecap="round" stroke-linejoin="round"/>
</g>
<line x1="46.8" y1="386.1" x2="761.4" y2="386.1" stroke="#000" stroke-width="1.5" stroke-dasharray="10.4 7.74"/>
<g stroke="#000" stroke-width="1.3" fill="none">
<line x1="46.8" y1="61" x2="46.8" y2="521.5"/>
<line x1="32.0" y1="498.45" x2="776.5" y2="498.45"/>
<line x1="46.8" y1="342.9" x2="55.8" y2="342.9" stroke-width="1.2"/>
<line x1="46.8" y1="386.1" x2="55.8" y2="386.1" stroke-width="1.2"/>
<line x1="404.0" y1="498.45" x2="404.0" y2="489.4" stroke-width="1.2"/>
<line x1="761.5" y1="498.45" x2="761.5" y2="489.4" stroke-width="1.2"/>
</g>
<g font-family="'Liberation Sans', sans-serif" fill="#000">
<clipPath id="omc"><rect x="25" y="16.1" width="19" height="30"/><rect x="44" y="21.2" width="9" height="25"/><rect x="53" y="16.1" width="17" height="30"/></clipPath><g clip-path="url(#omc)" fill="none" stroke="#000" stroke-width="3.4" stroke-linejoin="round"><path d="M41.40 14.30 C40.90 15.00 41.73 13.87 39.90 16.40 C38.07 18.93 37.80 18.07 35.90 21.90 C34.00 25.73 34.43 24.13 34.20 27.90 C33.97 31.67 33.73 30.53 35.20 33.20 C36.67 35.87 36.13 35.70 38.60 35.90 C41.07 36.10 40.17 36.27 42.60 33.80 C45.03 31.33 44.07 32.37 45.90 28.50 C47.73 24.63 47.17 25.23 48.10 22.20 C49.03 19.17 48.50 20.33 48.70 19.40"/><path d="M48.70 19.40 C48.50 20.33 48.60 19.37 48.10 22.20 C47.60 25.03 47.27 24.23 47.20 27.90 C47.13 31.57 46.47 30.53 47.90 33.20 C49.33 35.87 48.87 35.80 51.50 35.90 C54.13 36.00 53.13 36.40 55.80 33.50 C58.47 30.60 57.90 31.27 59.50 27.20 C61.10 23.13 60.73 24.90 60.60 21.30 C60.47 17.70 59.83 18.73 59.10 16.40 C58.37 14.07 58.63 15.00 58.40 14.30"/></g>
<text x="793.8" y="510.0" font-size="40">q</text>
<path d="M32.90 74.98 H35.20 V89.80 H32.90 Z M32.90 74.98 L29.20 78.81 L29.20 80.57 L32.90 78.29 Z"/>
<text x="38.85" y="391.9" font-size="20.7" text-anchor="end">2</text>
<path d="M21.70 377.08 H24.00 V391.90 H21.70 Z M21.70 377.08 L18.00 380.91 L18.00 382.67 L21.70 380.39 Z"/>
<text x="15.85" y="391.9" font-size="20.7" text-anchor="end">5/</text>
<path d="M32.12 325.43 H33.70 V335.60 H32.12 Z M32.12 325.43 L29.58 328.06 L29.58 329.27 L32.12 327.70 Z"/>
<text x="28.4" y="359.6" font-size="14.2">2</text>
<line x1="28.95" y1="341.4" x2="38.6" y2="341.4" stroke="#000" stroke-width="1.2"/>
<g transform="translate(398.90 508.00) scale(0.715 0.700)" fill="none" stroke="#000" stroke-width="1.80" stroke-linecap="round"><path d="M1.3 0.95 H13.9" stroke-linecap="butt" stroke-width="1.5"/><path d="M4.5 1.4 C4.2 4.7 3.8 9.3 0.5 10.1"/><path d="M10.8 1.4 C10.4 4.2 9.2 6.7 9.4 8.5 C9.6 10.0 10.5 10.3 11.7 9.9"/></g>
<text x="399.0" y="539.3" font-size="14.2">2</text>
<line x1="398.1" y1="521.3" x2="410.9" y2="521.3" stroke="#000" stroke-width="1.2"/>
<g transform="translate(753.80 518.30) scale(1.000 1.000)" fill="none" stroke="#000" stroke-width="1.90" stroke-linecap="round"><path d="M1.3 0.95 H13.9" stroke-linecap="butt" stroke-width="1.5"/><path d="M4.5 1.4 C4.2 4.7 3.8 9.3 0.5 10.1"/><path d="M10.8 1.4 C10.4 4.2 9.2 6.7 9.4 8.5 C9.6 10.0 10.5 10.3 11.7 9.9"/></g>
</g>
</svg>
</body></html>
